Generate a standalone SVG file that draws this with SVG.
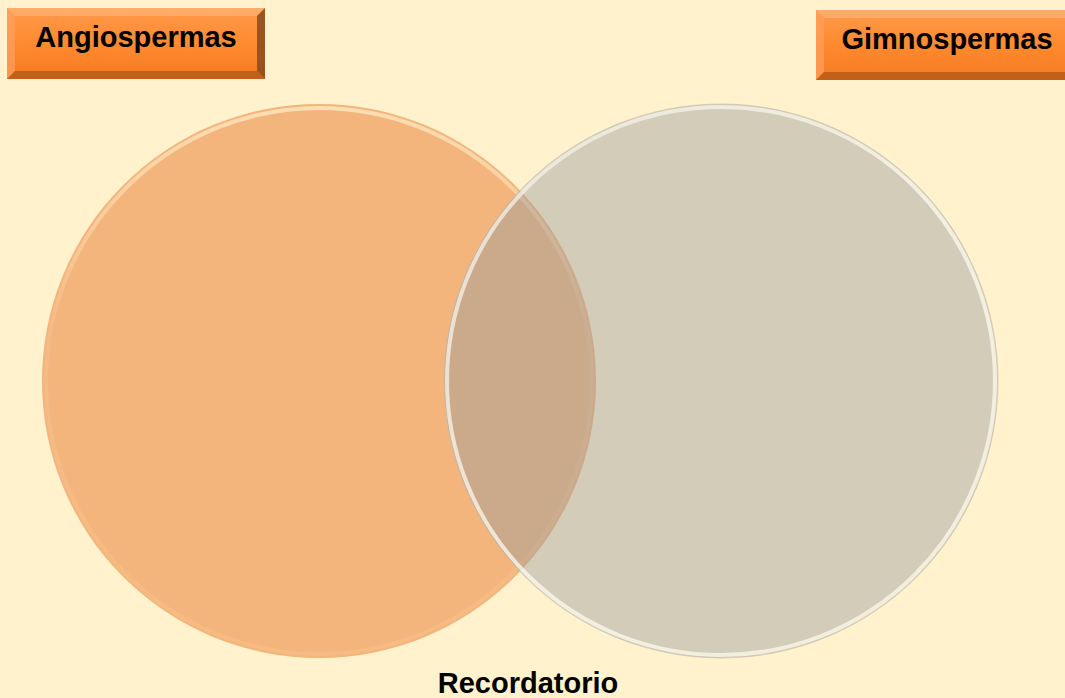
<svg xmlns="http://www.w3.org/2000/svg" width="1065" height="698" viewBox="0 0 1065 698">
<style>
.lbl{font-family:"Liberation Sans",Arial,sans-serif;font-weight:bold;font-size:29px;fill:#000}
</style>
<defs>
<linearGradient id="boxg" x1="0" y1="0" x2="0" y2="1">
<stop offset="0" stop-color="#FF9A4A"/>
<stop offset="0.5" stop-color="#FF8A30"/>
<stop offset="1" stop-color="#F47A20"/>
</linearGradient>
<linearGradient id="rimL" x1="0" y1="0" x2="0" y2="1">
<stop offset="0" stop-color="#FFE8C0"/>
<stop offset="0.4" stop-color="#F5BC88"/>
<stop offset="1" stop-color="#F6BD84"/>
</linearGradient>
<linearGradient id="rimR" x1="0" y1="0" x2="1" y2="1">
<stop offset="0" stop-color="#F2EEE4"/>
<stop offset="0.5" stop-color="#FFFBEF"/>
<stop offset="1" stop-color="#FFF8E8"/>
</linearGradient>
</defs>
<rect x="0" y="0" width="1065" height="698" fill="#FFF2CC"/>
<g id="angiospermas-circle">
<circle cx="319" cy="381" r="277" fill="#F3B57C"/>
<circle cx="319" cy="381" r="273" fill="none" stroke="url(#rimL)" stroke-width="4" opacity="0.8"/>
</g>
<g id="gimnospermas-circle">
<circle cx="721" cy="381" r="277" fill="#9B9EA0" fill-opacity="0.45"/>
<circle cx="721" cy="381" r="274" fill="none" stroke="url(#rimR)" stroke-width="4" opacity="0.75"/>
<circle cx="721" cy="381" r="277" fill="none" stroke="#C8C0B0" stroke-width="1" opacity="0.6"/>
</g>
<g id="angiospermas">
<rect x="7" y="8" width="258" height="71" fill="url(#boxg)"/>
<polygon points="7,8 265,8 257,16 15,16" fill="#FFB070" opacity="0.8"/>
<polygon points="7,8 15,16 15,71 7,79" fill="#FFA060" opacity="0.7"/>
<polygon points="265,8 265,79 257,71 257,16" fill="#8A4A1A" opacity="0.85"/>
<polygon points="7,79 265,79 257,71 15,71" fill="#B85A18" opacity="0.85"/>
<text class="lbl" x="136" y="47" text-anchor="middle">Angiospermas</text>
</g>
<g id="gimnospermas">
<rect x="816" y="10" width="260" height="70" fill="url(#boxg)"/>
<polygon points="816,10 1076,10 1068,18 824,18" fill="#FFB070" opacity="0.8"/>
<polygon points="816,10 824,18 824,72 816,80" fill="#FFA060" opacity="0.7"/>
<polygon points="816,80 1076,80 1068,72 824,72" fill="#B85A18" opacity="0.85"/>
<text class="lbl" x="947" y="49" text-anchor="middle">Gimnospermas</text>
</g>
<g id="recordatorio">
<text class="lbl" x="528" y="693" text-anchor="middle">Recordatorio</text>
</g>
<g id="connectors"/>
</svg>
